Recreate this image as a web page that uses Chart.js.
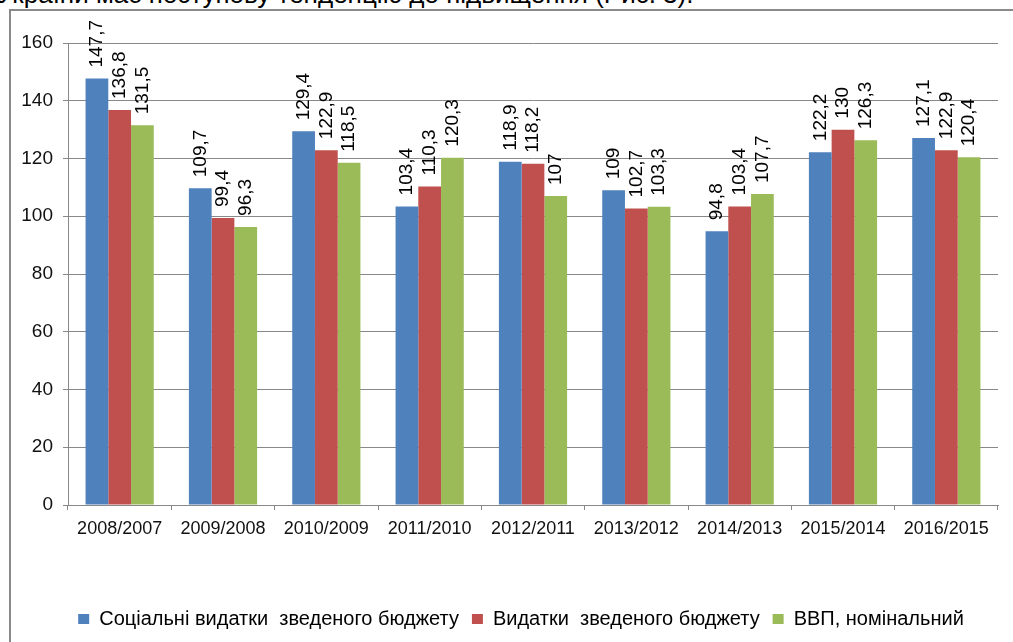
<!DOCTYPE html>
<html>
<head>
<meta charset="utf-8">
<script src="https://cdn.jsdelivr.net/npm/chart.js@4/dist/chart.umd.min.js"></script>
<style>
  html, body { margin: 0; padding: 0; background: #fff; overflow: hidden; }
  #wrap { position: relative; width: 1013px; height: 642px; }
  #lead {
    position: absolute; left: -3px; top: -21px; white-space: nowrap;
    font: 26px "Liberation Sans", Arial, sans-serif; color: #000;
  }
  #frame {
    position: absolute; left: 9px; top: 9px; width: 1100px; height: 700px;
    border-left: 2px solid #8a8a8a; border-top: 2px solid #8a8a8a;
  }
  #voteChart { position: absolute; left: 0; top: 0; }
</style>
</head>
<body>
<div id="wrap">
  <div id="lead">України має поступову тенденцію до підвищення (Рис. 3).</div>
  <div id="frame"></div>
  <canvas id="voteChart" width="1013" height="642"></canvas>
</div>
<script>
const categories = ['2008/2007', '2009/2008', '2010/2009', '2011/2010', '2012/2011',
  '2013/2012', '2014/2013', '2015/2014', '2016/2015'];
const socialSpending = [147.7, 109.7, 129.4, 103.4, 118.9, 109, 94.8, 122.2, 127.1];
const budgetSpending = [136.8, 99.4, 122.9, 110.3, 118.2, 102.7, 103.4, 130, 122.9];
const nominalGdp = [131.5, 96.3, 118.5, 120.3, 107, 103.3, 107.7, 126.3, 120.4];
const seriesNames = ['Соціальні видатки  зведеного бюджету', 'Видатки  зведеного бюджету', 'ВВП, номінальний'];
const yMin = 0, yMax = 160, yStep = 20;

const FONT = '"Liberation Sans", Arial, sans-serif';

// підписи значень над стовпчиками (вертикально)
const valueLabels = {
  id: 'valueLabels',
  afterDatasetsDraw(chart) {
    const ctx = chart.ctx;
    ctx.save();
    ctx.font = '19px ' + FONT;
    ctx.fillStyle = '#000';
    ctx.textAlign = 'left';
    ctx.textBaseline = 'middle';
    chart.data.datasets.forEach((ds, i) => {
      chart.getDatasetMeta(i).data.forEach((bar, j) => {
        ctx.save();
        ctx.translate(bar.x, bar.y - 11);
        ctx.rotate(-Math.PI / 2);
        ctx.fillText(String(ds.data[j]).replace('.', ','), 0, 0);
        ctx.restore();
      });
    });
    ctx.restore();
  }
};

// легенда трохи правіше, як в оригіналі
const legendShift = {
  id: 'legendShift',
  afterLayout(chart) {
    chart.legend.left += 15;
    chart.legend.right += 15;
  }
};

document.addEventListener('DOMContentLoaded', () => {
  const ctx = document.getElementById('voteChart').getContext('2d');
  const colors = ['#4F81BD', '#C0504D', '#9BBB59'];
  const values = [socialSpending, budgetSpending, nominalGdp];

  new Chart(ctx, {
    type: 'bar',
    data: {
      labels: categories,
      datasets: values.map((v, i) => ({
        label: seriesNames[i],
        data: v,
        backgroundColor: colors[i],
        borderWidth: 0,
        barPercentage: 1,
        categoryPercentage: 0.66
      }))
    },
    options: {
      responsive: false,
      animation: false,
      layout: { padding: { left: 14, right: 15, top: 43, bottom: 3 } },
      plugins: {
        tooltip: { enabled: false },
        legend: {
          position: 'bottom',
          labels: {
            boxWidth: 11,
            boxHeight: 10,
            padding: 13,
            color: '#000',
            font: { family: FONT, size: 20 }
          }
        }
      },
      scales: {
        x: {
          afterFit: s => { s.height = 91; },
          grid: { drawOnChartArea: false, drawTicks: true, tickLength: 5, color: '#888' },
          border: { color: '#888' },
          ticks: { color: '#111', padding: 8, font: { family: FONT, size: 18 } }
        },
        y: {
          min: yMin,
          max: yMax,
          afterFit: s => { s.width = 54; },
          grid: { color: '#888', tickLength: 5 },
          border: { color: '#888' },
          ticks: { stepSize: yStep, color: '#111', padding: 10, font: { family: FONT, size: 19 } }
        }
      }
    },
    plugins: [valueLabels, legendShift]
  });
});
</script>
</body>
</html>
